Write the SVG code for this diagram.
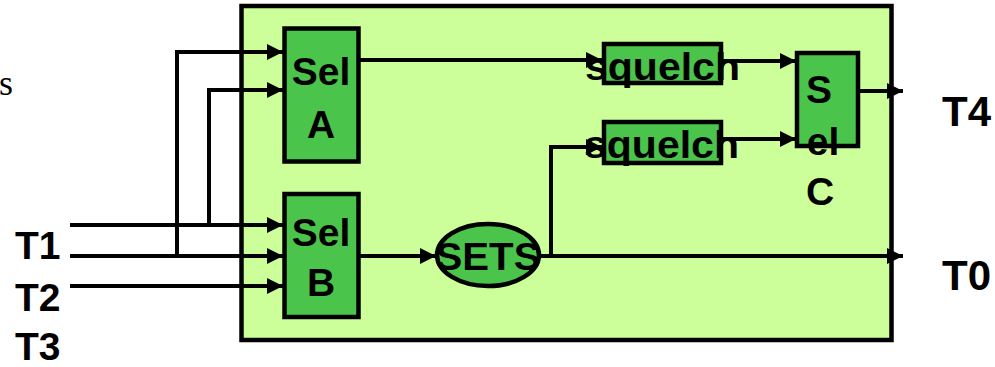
<svg xmlns="http://www.w3.org/2000/svg" width="995" height="367" viewBox="0 0 995 367">
<defs>
<style>
.box{fill:#4AC44A;stroke:#000;stroke-width:4.5}
.ln{fill:none;stroke:#000;stroke-width:4;marker-end:url(#ah)}
.t{font-family:"Liberation Sans",Arial,sans-serif;font-weight:bold;fill:#000}
.serif{font-family:"Liberation Serif","Times New Roman",serif;fill:#000}
</style>
<marker id="ah" markerUnits="userSpaceOnUse" markerWidth="16" markerHeight="16" viewBox="0 0 14 14" refX="14" refY="7" orient="auto">
<path d="M0,0 L14,7 L0,14 z" fill="#000"/>
</marker>
</defs>
<rect width="995" height="367" fill="#fff"/>
<text class="serif" x="-1" y="95" font-size="36">s</text>
<g id="container"><rect x="241.5" y="6" width="650" height="334" fill="#CCFF99" stroke="#000" stroke-width="4.5"/></g>
<g id="connectors">
<path class="ln" d="M70,225 H283"/>
<path class="ln" d="M70,256 H283"/>
<path class="ln" d="M70,286 H283"/>
<path class="ln" d="M177,256 V52 H283"/>
<path class="ln" d="M209,225 V90 H283"/>
<path class="ln" d="M359,60 H602"/>
<path class="ln" d="M359,256 H436"/>
<path class="ln" d="M541,256 H903"/>
<path class="ln" d="M551,256 V147 H602"/>
<path class="ln" d="M722,61 H796"/>
<path class="ln" d="M722,139 H796"/>
<path class="ln" d="M858,91 H903"/>
</g>
<g id="selA"><rect class="box" x="284.5" y="28.5" width="74" height="133"/>
<text class="t" x="321" y="85" font-size="39" text-anchor="middle">Sel</text>
<text class="t" x="321" y="138" font-size="39" text-anchor="middle">A</text></g>
<g id="selB"><rect class="box" x="284.5" y="194" width="74" height="123"/>
<text class="t" x="321" y="246" font-size="39" text-anchor="middle">Sel</text>
<text class="t" x="321" y="296" font-size="39" text-anchor="middle">B</text></g>
<g id="squelch1"><rect class="box" x="604" y="44" width="117" height="39"/>
<text class="t" x="585" y="80" font-size="38" textLength="155" lengthAdjust="spacingAndGlyphs">squelch</text></g>
<g id="squelch2"><rect class="box" x="604" y="122" width="117" height="41"/>
<text class="t" x="584" y="158" font-size="38" textLength="155" lengthAdjust="spacingAndGlyphs">squelch</text></g>
<g id="selC"><rect class="box" x="797" y="53" width="61" height="93"/>
<text class="t" x="819" y="103" font-size="39" text-anchor="middle">S</text>
<text class="t" x="823" y="155" font-size="39" text-anchor="middle">el</text>
<text class="t" x="820" y="205" font-size="39" text-anchor="middle">C</text></g>
<g id="sets"><ellipse cx="488" cy="255" rx="51" ry="31" fill="#4AC44A" stroke="#000" stroke-width="4.5"/>
<text class="t" x="488" y="270" font-size="39" text-anchor="middle" textLength="105" lengthAdjust="spacingAndGlyphs">SETS</text></g>
<g id="labels">
<text class="t" x="15" y="259" font-size="39">T1</text>
<text class="t" x="15" y="311" font-size="39">T2</text>
<text class="t" x="15" y="360" font-size="39">T3</text>
<text class="t" x="942" y="126" font-size="42">T4</text>
<text class="t" x="942" y="290" font-size="42">T0</text>
</g>
</svg>
